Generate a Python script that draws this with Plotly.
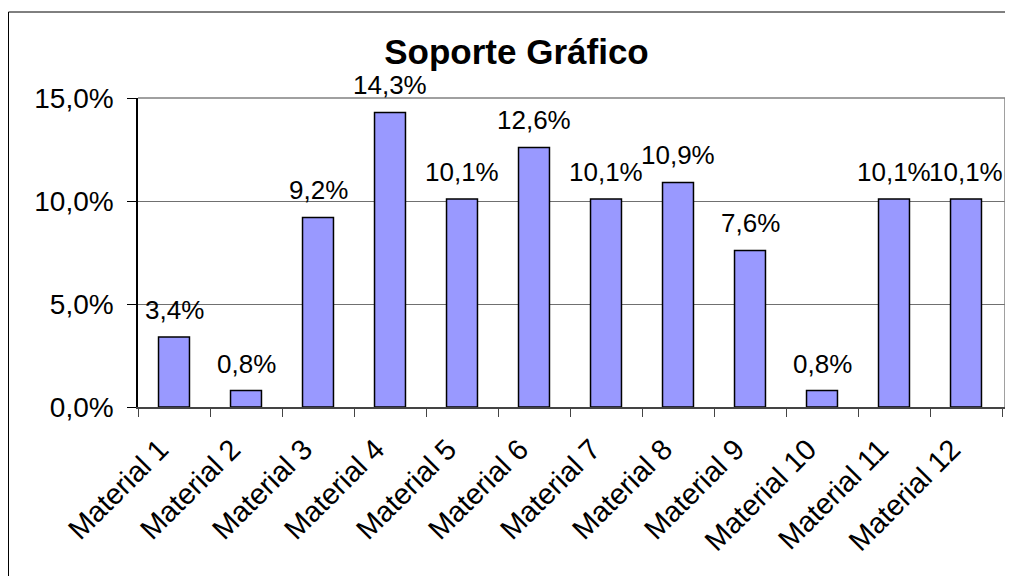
import plotly.graph_objects as go

categories = ["Material 1", "Material 2", "Material 3", "Material 4", "Material 5", "Material 6",
              "Material 7", "Material 8", "Material 9", "Material 10", "Material 11", "Material 12"]
values = [0.034, 0.008, 0.092, 0.143, 0.101, 0.126, 0.101, 0.109, 0.076, 0.008, 0.101, 0.101]
labels = ["3,4%", "0,8%", "9,2%", "14,3%", "10,1%", "12,6%", "10,1%", "10,9%", "7,6%", "0,8%", "10,1%", "10,1%"]
y_ticks = [0.0, 0.05, 0.10, 0.15]
y_tick_labels = ["0,0%", "5,0%", "10,0%", "15,0%"]
title_text = "Soporte Gráfico"

FONT = "Arial, Liberation Sans, sans-serif"
# page body has an 8px margin, so the figure is sized to the visible area
W, H = 1005, 568
ML, MR, MT, MB = 130, 8, 90, 169

fig = go.Figure()
fig.add_trace(go.Bar(
    x=categories, y=values,
    marker=dict(color="#9999FF", line=dict(color="black", width=1.5)),
    hoverinfo="skip",
))

for c, v, t in zip(categories, values, labels):
    fig.add_annotation(x=c, y=v, text=t, showarrow=False, yanchor="middle", yshift=27,
                       font=dict(family=FONT, size=26, color="black"))

pw = W - ML - MR
ph = H - MT - MB
fig.add_shape(type="rect", xref="paper", yref="paper",
              x0=(0.5 - ML) / pw, x1=1.1, y0=-1.0, y1=(H - MB - 4) / ph,
              line=dict(color="black", width=1), layer="below")

fig.update_layout(
    width=W, height=H,
    margin=dict(l=ML, r=MR, t=MT, b=MB),
    paper_bgcolor="white", plot_bgcolor="white",
    bargap=0.57,
    showlegend=False,
    title=dict(text=title_text, x=508.5 / W, xref="container", xanchor="center",
               y=1 - 44 / H, yref="container", yanchor="middle",
               font=dict(family=FONT, size=35, color="black", weight="bold")),
    font=dict(family=FONT, size=27, color="black"),
    xaxis=dict(
        type="category", tickangle=-45, tickson="boundaries", ticks="outside", ticklen=8,
        tickcolor="#444", showline=True, linecolor="#444", linewidth=1.5, mirror=False,
        showgrid=False, tickfont=dict(family=FONT, size=29, color="black"),
        ticklabelstandoff=12, ticklabelshift=-14,
    ),
    yaxis=dict(
        range=[0, 0.15], tickvals=y_ticks, ticktext=y_tick_labels, ticks="outside", ticklen=9,
        tickcolor="black", showline=True, linecolor="black", linewidth=1.5,
        showgrid=True, gridcolor="#707070", gridwidth=1, zeroline=False,
        tickfont=dict(family=FONT, size=28, color="black"), ticklabelstandoff=8,
    ),
)
# top and right plot border in gray
fig.add_shape(type="line", xref="paper", yref="paper", x0=0, x1=1, y0=1, y1=1,
              line=dict(color="#808080", width=1.5))
fig.add_shape(type="line", xref="paper", yref="paper", x0=1, x1=1, y0=0, y1=1,
              line=dict(color="#808080", width=1.5))

fig.write_html("out.html")
